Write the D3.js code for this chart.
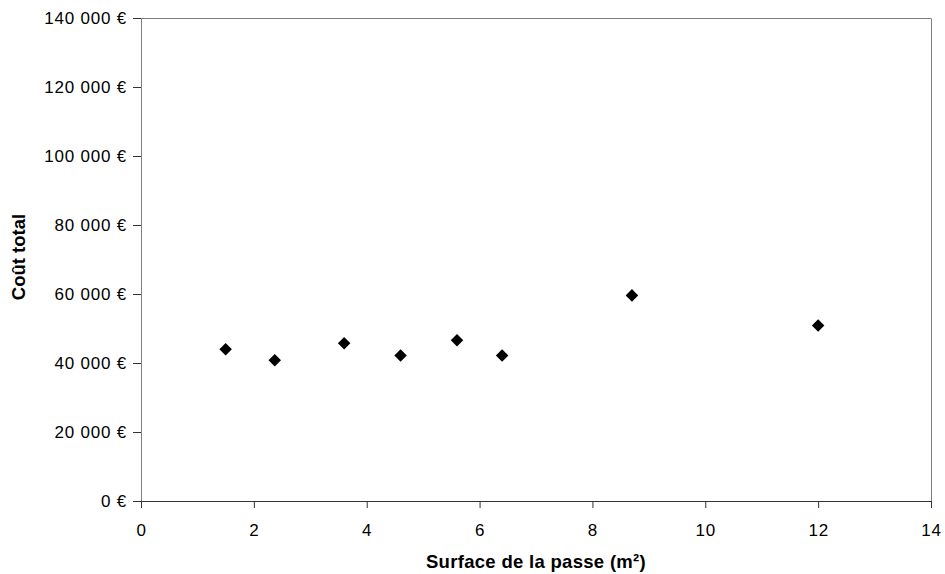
<!DOCTYPE html>
<html lang="en">
<head>
    <meta charset="UTF-8">
    <title>Coût total vs surface de la passe</title>
    <style>
        body { margin: 0; background: #fff; font-family: "Liberation Sans", Arial, sans-serif; }
        .tick text { font-size: 17px; fill: #000; letter-spacing: 0.8px; }
    </style>
    <script src="https://d3js.org/d3.v7.min.js"></script>
</head>
<body>
    <div id="chart"></div>
    <script>
        // surface (m²) and total cost (€)
        const surfaces = [1.5, 2.37, 3.6, 4.6, 5.6, 6.4, 8.7, 12.0];
        const costs = [44000, 40800, 45700, 42200, 46600, 42200, 59600, 50900];
        const xTicks = [0, 2, 4, 6, 8, 10, 12, 14];
        const yTicks = [0, 20000, 40000, 60000, 80000, 100000, 120000, 140000];

        const width = 945, height = 574;
        const margin = { top: 18, right: 14, bottom: 73, left: 141 };
        const w = width - margin.left - margin.right;
        const h = height - margin.top - margin.bottom;

        const svg = d3.select("#chart").append("svg")
            .attr("width", width)
            .attr("height", height);
        const g = svg.append("g").attr("transform", `translate(${margin.left},${margin.top})`);

        const x = d3.scaleLinear().domain([0, 14]).range([0, w]);
        const y = d3.scaleLinear().domain([0, 140000]).range([h, 0]);

        const fmt = v => d3.format(",")(v).replace(/,/g, "\u00a0") + " €";

        // plot border (top and right)
        g.append("path")
            .attr("d", `M0,0.5H${w + 0.5}V${h}`)
            .attr("fill", "none")
            .attr("stroke", "#808080");

        const yAxis = g.append("g")
            .call(d3.axisLeft(y).tickValues(yTicks).tickFormat(fmt).tickSize(8).tickPadding(6));
        yAxis.select(".domain").attr("stroke", "#808080");
        yAxis.selectAll(".tick line").attr("stroke", "#333");

        const xAxis = g.append("g")
            .attr("transform", `translate(0,${h})`)
            .call(d3.axisBottom(x).tickValues(xTicks).tickSize(7).tickPadding(16));
        xAxis.select(".domain").attr("stroke", "#333");
        xAxis.selectAll(".tick line").attr("stroke", "#333");

        g.selectAll("path.pt")
            .data(surfaces.map((s, i) => [s, costs[i]]))
            .enter().append("path")
            .attr("class", "pt")
            .attr("d", d3.symbol().type(d3.symbolDiamond2).size(100))
            .attr("transform", d => `translate(${x(d[0])},${y(d[1])})`)
            .attr("fill", "#000");

        svg.append("text")
            .attr("x", margin.left + w / 2)
            .attr("y", 568)
            .attr("text-anchor", "middle")
            .attr("font-size", "18.5px")
            .attr("font-weight", "bold")
            .attr("letter-spacing", "0.3px")
            .text("Surface de la passe (m²)");

        svg.append("text")
            .attr("transform", "translate(25,257) rotate(-90)")
            .attr("text-anchor", "middle")
            .attr("font-size", "18.5px")
            .attr("font-weight", "bold")
            .text("Coût total");
    </script>
</body>
</html>
